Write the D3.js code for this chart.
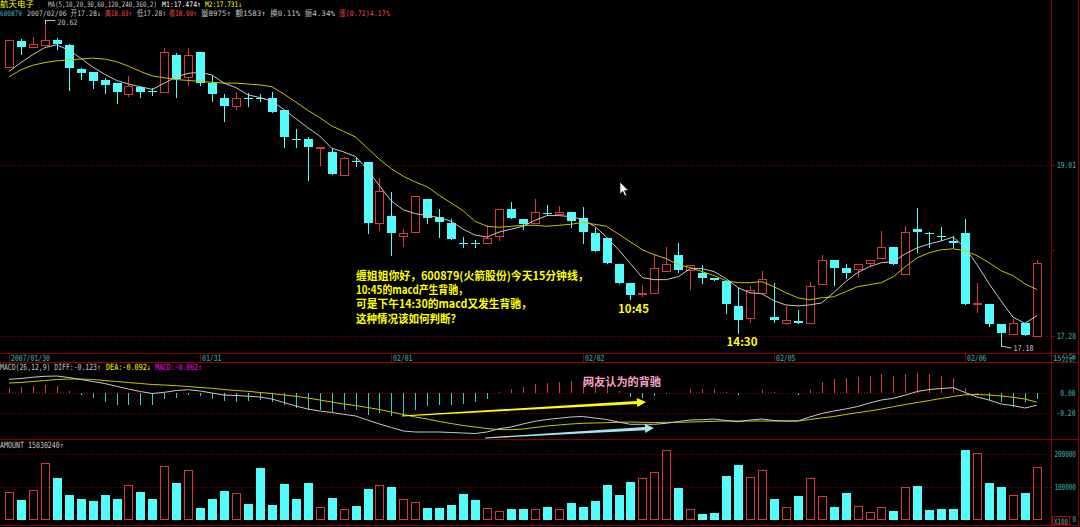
<!DOCTYPE html>
<html><head><meta charset="utf-8">
<script src="https://cdn.jsdelivr.net/npm/d3@7"></script>
<style>
html,body{margin:0;padding:0;background:#000;overflow:hidden}
svg{display:block}
text{font-family:"DejaVu Sans Mono","Liberation Mono","Noto Sans CJK SC",monospace}
</style></head><body>
<svg id="chart" width="1080" height="527"></svg>
<script>
// ---------------- data ----------------
const dayKeys   = ["01/30","01/31","02/01","02/02","02/05","02/06"];
const dayLabels = ["2007/01/30","01/31","02/01","02/02","02/05","02/06"];
const barsPerDay = [16,16,16,16,16,7];
const slots = ["09:45","10:00","10:15","10:30","10:45","11:00","11:15","11:30",
               "13:15","13:30","13:45","14:00","14:15","14:30","14:45","15:00"];

const open = [20.08,20.37,20.31,20.33,20.39,20.33,20.06,20.02,19.94,19.90,19.78,19.86,19.81,19.80,20.21,19.97,
20.25,19.90,19.74,19.65,19.74,19.74,19.74,19.60,19.29,19.29,19.19,19.15,18.90,19.05,19.04,18.40,
18.48,18.27,18.31,18.65,18.47,18.40,18.20,18.20,18.20,18.27,18.55,18.44,18.40,18.51,18.50,18.52,
18.45,18.30,18.25,17.99,17.80,17.69,17.70,17.92,18.08,17.93,17.90,17.85,17.82,17.57,17.45,17.70,
17.46,17.40,17.42,17.40,17.79,18.03,17.95,17.94,18.00,18.05,18.16,17.89,18.34,18.30,18.27,18.22,
18.30,17.59,17.59,17.39,17.30,17.40,17.28];
const high = [20.39,20.40,20.42,20.62,20.41,20.34,20.07,20.02,19.96,19.90,19.98,19.86,19.85,20.29,20.24,20.29,
20.25,19.98,19.78,19.80,19.79,19.78,19.80,19.60,19.40,19.31,19.20,19.19,19.09,19.10,19.04,18.87,
18.73,18.34,18.68,18.65,18.55,18.44,18.26,18.23,18.38,18.55,18.62,18.44,18.65,18.59,18.58,18.52,
18.57,18.35,18.25,17.99,17.80,17.78,18.09,18.16,18.20,17.98,17.98,17.85,17.82,17.75,17.77,17.92,
17.80,17.57,17.53,17.81,18.08,18.03,17.99,17.99,18.03,18.32,18.16,18.37,18.56,18.31,18.36,18.27,
18.44,17.80,17.59,17.39,17.44,17.40,18.03];
const low = [20.08,20.23,20.30,20.32,20.28,19.82,19.95,19.85,19.79,19.68,19.75,19.75,19.77,19.80,19.75,19.87,
19.88,19.70,19.48,19.60,19.65,19.70,19.58,19.20,19.20,18.85,19.00,18.91,18.90,19.00,18.30,18.32,
18.08,18.16,18.31,18.40,18.26,18.24,18.16,18.16,18.20,18.22,18.45,18.34,18.40,18.49,18.50,18.36,
18.20,18.12,18.00,17.80,17.64,17.66,17.70,17.92,17.91,17.73,17.80,17.83,17.50,17.31,17.40,17.70,
17.41,17.38,17.40,17.40,17.79,17.78,17.85,17.85,17.96,18.05,17.99,17.89,18.11,18.16,18.23,18.16,
17.59,17.50,17.37,17.18,17.30,17.29,17.28];
const close = [20.39,20.31,20.34,20.39,20.34,20.07,20.01,19.92,19.88,19.80,19.87,19.80,19.81,20.25,19.95,20.22,
19.90,19.78,19.65,19.74,19.74,19.74,19.58,19.31,19.29,19.20,19.20,18.91,19.08,19.05,18.40,18.74,
18.30,18.30,18.68,18.45,18.41,18.24,18.20,18.20,18.25,18.55,18.45,18.39,18.52,18.51,18.52,18.42,
18.31,18.12,18.00,17.80,17.68,17.70,17.95,17.99,17.93,17.98,17.85,17.83,17.59,17.43,17.73,17.84,
17.43,17.43,17.40,17.77,18.03,17.95,17.90,17.99,18.03,18.16,17.99,18.31,18.31,18.30,18.27,18.20,
17.59,17.60,17.39,17.31,17.40,17.29,18.00];
const ma5 = [20.03,20.13,20.22,20.30,20.33,20.27,20.18,20.08,20.00,19.93,19.89,19.86,19.83,19.90,19.97,20.01,
20.02,19.99,19.90,19.85,19.77,19.74,19.70,19.61,19.51,19.41,19.32,19.19,19.15,19.10,18.96,18.79,
18.63,18.54,18.50,18.48,18.46,18.42,18.34,18.28,18.26,18.31,18.34,18.37,18.43,18.48,18.48,18.47,
18.44,18.37,18.26,18.13,17.99,17.85,17.83,17.83,17.86,17.94,17.94,17.91,17.84,17.75,17.70,17.69,
17.62,17.58,17.57,17.58,17.60,17.70,17.81,17.90,17.96,18.00,18.01,18.09,18.15,18.19,18.22,18.26,
18.15,17.98,17.79,17.62,17.46,17.40,17.474];
const ma10 = [19.97,20.05,20.10,20.13,20.15,20.16,20.17,20.18,20.17,20.14,20.09,20.03,19.98,19.96,19.94,19.93,
19.92,19.91,19.90,19.90,19.89,19.88,19.86,19.78,19.69,19.60,19.52,19.43,19.37,19.31,19.19,19.07,
18.97,18.89,18.83,18.78,18.69,18.61,18.53,18.42,18.37,18.36,18.37,18.38,18.38,18.37,18.38,18.39,
18.41,18.39,18.37,18.29,18.21,18.13,18.08,18.04,17.98,17.95,17.91,17.87,17.82,17.80,17.80,17.81,
17.76,17.70,17.65,17.63,17.65,17.66,17.71,17.76,17.78,17.80,17.86,17.96,18.05,18.10,18.13,18.14,
18.12,18.07,18.00,17.92,17.87,17.79,17.731];
const diff = [0.137,0.145,0.158,0.167,0.17,0.155,0.135,0.115,0.095,0.067,0.04,0.015,-0.005,0.007,0.025,0.033,
0.02,0.0,-0.02,-0.025,-0.032,-0.04,-0.06,-0.095,-0.13,-0.16,-0.18,-0.195,-0.213,-0.23,-0.27,-0.31,
-0.345,-0.38,-0.39,-0.39,-0.39,-0.395,-0.40,-0.405,-0.39,-0.357,-0.34,-0.31,-0.283,-0.265,-0.253,-0.24,
-0.235,-0.25,-0.265,-0.29,-0.313,-0.313,-0.313,-0.303,-0.285,-0.27,-0.267,-0.26,-0.275,-0.287,-0.27,-0.26,
-0.275,-0.28,-0.28,-0.24,-0.205,-0.18,-0.16,-0.135,-0.10,-0.07,-0.053,-0.02,0.015,0.035,0.045,0.053,
0.005,-0.04,-0.07,-0.11,-0.125,-0.15,-0.123];
const dea = [0.10,0.105,0.115,0.125,0.135,0.14,0.14,0.135,0.125,0.115,0.105,0.095,0.085,0.08,0.073,0.065,
0.055,0.047,0.035,0.025,0.017,0.005,-0.005,-0.02,-0.033,-0.05,-0.07,-0.09,-0.11,-0.125,-0.145,-0.165,
-0.19,-0.215,-0.24,-0.26,-0.285,-0.305,-0.325,-0.34,-0.355,-0.365,-0.367,-0.36,-0.345,-0.33,-0.32,-0.31,
-0.303,-0.30,-0.297,-0.293,-0.29,-0.293,-0.295,-0.293,-0.293,-0.29,-0.287,-0.283,-0.28,-0.28,-0.28,-0.28,
-0.28,-0.28,-0.28,-0.265,-0.25,-0.235,-0.215,-0.197,-0.18,-0.16,-0.137,-0.115,-0.095,-0.075,-0.055,-0.035,
-0.018,-0.015,-0.02,-0.03,-0.043,-0.06,-0.092];
const macd = [0.05,0.06,0.07,0.077,0.067,0.017,-0.017,-0.05,-0.09,-0.117,-0.117,-0.117,-0.117,-0.057,-0.05,-0.017,
-0.03,-0.057,-0.083,-0.09,-0.083,-0.073,-0.09,-0.123,-0.147,-0.173,-0.167,-0.19,-0.173,-0.173,-0.217,-0.197,
-0.23,-0.23,-0.167,-0.133,-0.123,-0.117,-0.107,-0.09,-0.057,0.01,0.043,0.06,0.09,0.10,0.11,0.12,
0.12,0.10,0.07,0.02,-0.04,-0.05,-0.03,-0.01,0.0,0.04,0.04,0.04,0.01,-0.017,0.005,0.033,
0.01,0.005,-0.017,0.033,0.107,0.137,0.15,0.163,0.173,0.187,0.173,0.193,0.2,0.193,0.173,0.15,
0.05,-0.023,-0.067,-0.09,-0.143,-0.09,-0.062];
const amount = [82000,59000,88000,172000,126000,74000,62000,57000,73000,62000,106000,83000,62000,164000,112000,149000,
33000,61000,85000,79000,46000,157000,43000,109000,61000,112000,38000,64000,30000,41000,91000,106000,
97000,61000,52000,34000,33000,43000,78000,59000,34000,26000,30000,30000,32000,36000,30000,49000,
39000,55000,106000,74000,115000,125000,143000,212000,96000,30000,16000,19000,133000,167000,128000,149000,
62000,39000,71000,125000,71000,36000,80000,41000,21000,39000,25000,97000,103000,28000,31000,31000,
212000,201000,110000,98000,75000,79000,158302];

const priceTicks = [19.01, 17.28];
const macdTicks = [0, -0.20];
const amountTicks = [200000, 100000, 0];

const questionLines = ["缠姐姐你好，600879(火箭股份)今天15分钟线，","10:45的macd产生背驰，","可是下午14:30的macd又发生背驰，","这种情况该如何判断？"];

// ---------------- setup ----------------
const categories = [];
dayKeys.forEach((d,k)=> slots.slice(0,barsPerDay[k]).forEach(s=>categories.push(d+" "+s)));

const RED="#d83838", CYAN="#54fcfc", BORDER="#880000", TEAL="#40b4b4", GRAY="#c4c4c4", YEL="#ffff00";
const svg = d3.select("#chart");
svg.append("rect").attr("width",1080).attr("height",527).attr("fill","#000");

const x = d3.scaleBand().domain(categories).range([3,1042.8]).paddingInner(0.3).paddingOuter(0.15);
const cx = i => x(categories[i]) + x.bandwidth()/2;
const px = i => Math.round(cx(i));
const yP = d3.scaleLog().domain([17.28,19.01]).range([335.7,165]);
const yM = d3.scaleLinear().domain([0,-0.2]).range([393,413]);
const yV = d3.scaleLinear().domain([0,200000]).range([519.3,453.7]);
const RIGHT = 1051;

// text helper: fits a text to a target width by horizontal scaling
function label(x0,y0,s,color,o={}){
  const t = svg.append("text").attr("fill",color).text(s).attr("font-size",o.size||8.5);
  if(o.weight) t.attr("font-weight",o.weight);
  if(o.family) t.style("font-family",o.family);
  let sx=1, xx=x0;
  if(o.len){
    const n=t.node().getComputedTextLength();
    sx = n>0 ? o.len/n : 1;
    if(o.anchor==="end") xx=x0-o.len; else if(o.anchor==="middle") xx=x0-o.len/2;
  } else if(o.anchor) t.attr("text-anchor",o.anchor);
  t.attr("transform",`translate(${xx},${y0}) scale(${sx},1)`);
  return t;
}
function hline(y,x1,x2,color,dash){
  const l=svg.append("line").attr("x1",x1).attr("x2",x2).attr("y1",Math.round(y)+0.5).attr("y2",Math.round(y)+0.5)
    .attr("stroke",color).attr("stroke-width",1).attr("shape-rendering","crispEdges");
  if(dash) l.attr("stroke-dasharray",dash);
}
function vline(xx,y1,y2,color){
  svg.append("line").attr("x1",xx).attr("x2",xx).attr("y1",y1).attr("y2",y2)
    .attr("stroke",color).attr("stroke-width",1).attr("shape-rendering","crispEdges");
}

// ---------------- frame & grid ----------------
priceTicks.forEach(v=>hline(yP(v),0,RIGHT,BORDER,"1,2"));
macdTicks.forEach(v=>hline(yM(v),0,RIGHT,BORDER,"1,2"));
amountTicks.filter(v=>v>0).forEach(v=>hline(yV(v),0,RIGHT,BORDER,"1,2"));
[353,362,439,525].forEach(y=>hline(y,0,1079,BORDER));
vline(RIGHT+0.5,0,527,BORDER);
vline(1078.5,0,527,BORDER);
[yP(19.01),(yP(19.01)+yP(17.28))/2,yP(17.28)].forEach(y=>hline(y,RIGHT,RIGHT+4,BORDER));

// ---------------- candles ----------------
const gC = svg.append("g").attr("shape-rendering","crispEdges");
categories.forEach((c,i)=>{
  const o=open[i], cl=close[i], up = cl>o;
  const col = up?RED:CYAN;
  const xc = px(i);
  const top = Math.round(yP(Math.max(o,cl))), bot = Math.round(yP(Math.min(o,cl)));
  const yh = Math.round(yP(high[i])), yl = Math.round(yP(low[i]));
  if(up){
    if(yh<top) gC.append("line").attr("x1",xc+0.5).attr("x2",xc+0.5).attr("y1",yh).attr("y2",top).attr("stroke",col);
    if(yl>bot) gC.append("line").attr("x1",xc+0.5).attr("x2",xc+0.5).attr("y1",bot).attr("y2",yl).attr("stroke",col);
    gC.append("rect").attr("x",xc-3.5).attr("y",top+0.5).attr("width",8).attr("height",Math.max(bot-top,1))
      .attr("fill","none").attr("stroke",col);
  } else {
    gC.append("line").attr("x1",xc+0.5).attr("x2",xc+0.5).attr("y1",yh).attr("y2",yl+1).attr("stroke",col);
    gC.append("rect").attr("x",xc-4).attr("y",top).attr("width",9).attr("height",Math.max(bot-top,1)).attr("fill",col);
  }
});

// moving averages
const lineP = d3.line().x((d,i)=>cx(i)).y(d=>yP(d));
svg.append("path").datum(ma10).attr("d",lineP).attr("fill","none").attr("stroke","#c4c400").attr("stroke-width",1);
svg.append("path").datum(ma5).attr("d",lineP).attr("fill","none").attr("stroke","#c8c8c8").attr("stroke-width",1);

// high / low markers
const iMax = d3.maxIndex(high), iMin = d3.minIndex(low);
{
  const xh=px(iMax)+0.5, yh=Math.round(yP(high[iMax]))+0.5;
  svg.append("path").attr("d",`M${xh},${yh+3}V${yh}H${xh+9}`).attr("stroke",GRAY).attr("fill","none").attr("shape-rendering","crispEdges");
  label(xh+12,25.3,high[iMax].toFixed(2),GRAY,{len:20,size:7.5});
  const xl=px(iMin)+0.5, yl=yP(low[iMin]);
  svg.append("path").attr("d",`M${xl},${yl}L${xl+10},${yl+2}`).attr("stroke",GRAY).attr("fill","none");
  label(xl+12,yl+5,low[iMin].toFixed(2),GRAY,{len:20,size:8});
}

// ---------------- date strip ----------------
let start=0;
dayKeys.forEach((d,k)=>{
  const xx = px(start)+0.5;
  vline(xx,353,362,BORDER);
  label(xx+1.5,361,dayLabels[k],TEAL,{len:dayLabels[k].length*3.9});
  start+=barsPerDay[k];
});
label(1053,361,"15分钟",TEAL,{len:23,size:8});

// ---------------- MACD ----------------
const gM = svg.append("g").attr("shape-rendering","crispEdges");
macd.forEach((v,i)=>{
  if(Math.abs(v)<0.004) return;
  gM.append("line").attr("x1",px(i)+0.5).attr("x2",px(i)+0.5).attr("y1",yM(0)).attr("y2",yM(v))
    .attr("stroke",v>0?RED:"#3ec8c8");
});
const lineM = d3.line().x((d,i)=>cx(i)).y(d=>yM(d));
svg.append("path").datum(dea).attr("d",lineM).attr("fill","none").attr("stroke","#c8c800").attr("stroke-width",1);
svg.append("path").datum(diff).attr("d",lineM).attr("fill","none").attr("stroke","#c8c8c8").attr("stroke-width",1);

// ---------------- AMOUNT ----------------
const gV = svg.append("g").attr("shape-rendering","crispEdges");
amount.forEach((v,i)=>{
  const up = close[i]>open[i];
  const xc = px(i), top=Math.round(yV(v)), base=Math.round(yV(0));
  if(up) gV.append("rect").attr("x",xc-3.5).attr("y",top+0.5).attr("width",8).attr("height",base-top)
           .attr("fill","none").attr("stroke",RED);
  else gV.append("rect").attr("x",xc-4).attr("y",top).attr("width",9).attr("height",base-top+1).attr("fill",CYAN);
});

// ---------------- right axis labels ----------------
priceTicks.forEach(v=>label(1057,yP(v)+3,v.toFixed(2),TEAL,{len:19}));
macdTicks.forEach(v=>{const s=v.toFixed(2); label(1075.5,yM(v)+3,s,TEAL,{anchor:"end",len:s.length*3.8});});
amountTicks.forEach(v=>{const s=String(v); label(1076,yV(v)+3,s,TEAL,{anchor:"end",len:s.length*3.6});});
svg.append("rect").attr("x",1052.5).attr("y",516.5).attr("width",17).attr("height",8).attr("fill","none").attr("stroke","#c00000").attr("shape-rendering","crispEdges");
label(1054,523.5,"X100",TEAL,{len:14,size:7.5});

// ---------------- headers ----------------
const last = close.length-1;
const hdr1 = [
  ["航天电子",0,34,YEL],
  ["MA(5,10,20,30,60,120,240,360,2)",48,109,GRAY],
  ["M1:"+ma5[last].toFixed(3)+"↑",162,39,"#ffffff"],
  ["M2:"+ma10[last].toFixed(3)+"↓",205,37,YEL]
];
hdr1.forEach(([s,x0,w,c])=>label(x0,7.2,s,c,{len:w,size:7.5}));
const hdr2 = [
  ["600879",0,22,TEAL],
  ["2007/02/06 开"+open[last].toFixed(2)+"↓",27,74,GRAY],
  ["高"+high[last].toFixed(2)+"↑",105,27,"#ff4646"],
  ["低"+low[last].toFixed(2)+"↑",137,29,GRAY],
  ["收"+close[last].toFixed(2)+"↑",169,28,"#ff4646"],
  ["量8975↑ 额1583↑ 换0.11% 振4.34%",201,134,GRAY],
  ["涨(0.72)4.17%",339,51,"#ff4646"]
];
hdr2.forEach(([s,x0,w,c])=>label(x0,16.3,s,c,{len:w,size:7.5}));

label(0,370,"MACD(26,12,9) DIFF:"+diff[last].toFixed(3)+"↑",GRAY,{len:101});
label(106,370,"DEA:"+dea[last].toFixed(3)+"↓",YEL,{len:45});
label(155,370,"MACD:"+macd[last].toFixed(3)+"↑","#ff00ff",{len:47});
label(0,447.5,"AMOUNT 15830240↑",GRAY,{len:64});

// ---------------- annotations ----------------
const CJK = "'Noto Sans CJK SC',sans-serif";
const qW=[233,112,176,105];
questionLines.forEach((s,k)=>label(356,279.5+k*14.4,s,YEL,{size:11,weight:"bold",family:CJK,len:qW[k]}));
label(633.5,313,categories[52].split(" ")[1],YEL,{size:11.5,weight:"bold",family:CJK,anchor:"middle"});
label(742,346,categories[61].split(" ")[1],YEL,{size:11.5,weight:"bold",family:CJK,anchor:"middle"});
label(583,386,"网友认为的背驰","#f8a0c8",{size:11,weight:"bold",family:CJK,len:78});

function arrow(x1,y1,x2,y2,color,w){
  const dx=x2-x1, dy=y2-y1, L=Math.hypot(dx,dy), ux=dx/L, uy=dy/L, nx=-uy, ny=ux;
  const hl=9, hw=4.5;
  const bx=x2-ux*hl, by=y2-uy*hl;
  const pts=[[x1+nx*0.5,y1+ny*0.5],[bx+nx*w/2,by+ny*w/2],[bx+nx*hw,by+ny*hw],[x2,y2],
             [bx-nx*hw,by-ny*hw],[bx-nx*w/2,by-ny*w/2],[x1-nx*0.5,y1-ny*0.5]];
  svg.append("polygon").attr("points",pts.map(p=>p.join(",")).join(" ")).attr("fill",color);
}
arrow(402,416,646,402,"#ffff00",3);
arrow(485,438,654,428,"#a8e2f0",3.2);

// mouse pointer
svg.append("path").attr("d","M620,182 L620,194 L622.8,191.3 L624.8,196 L626.6,195.2 L624.6,190.6 L628.4,190.6 Z")
  .attr("fill","#fff").attr("stroke","#000").attr("stroke-width",0.6);
</script>
</body></html>
